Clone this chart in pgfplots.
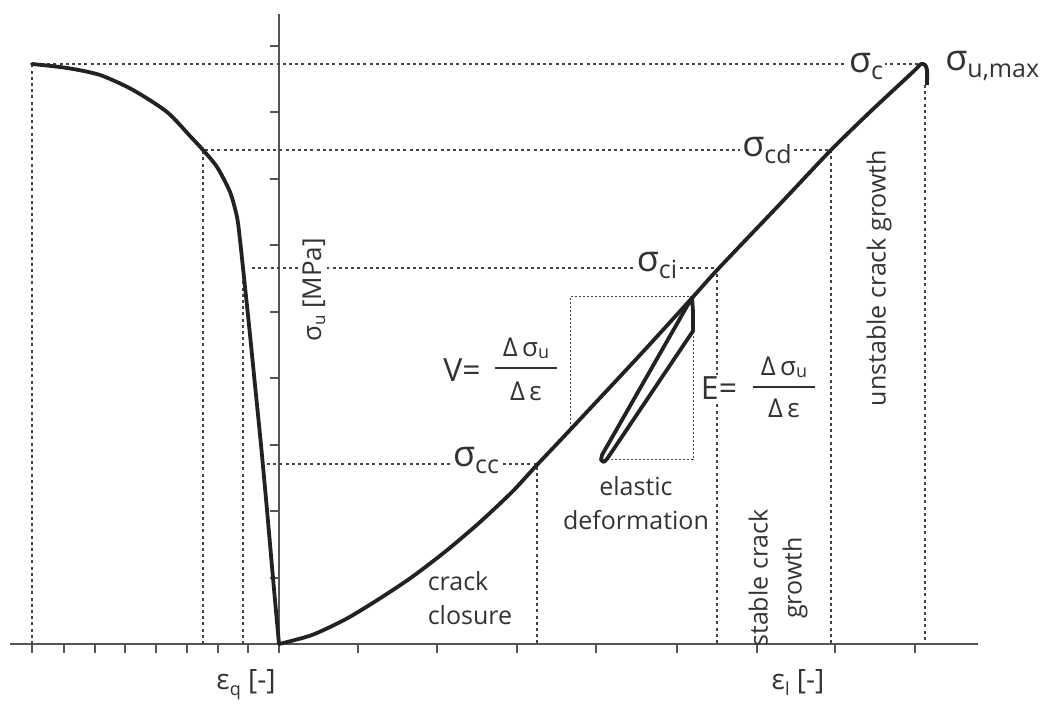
\documentclass[border=0pt]{standalone}
\usepackage{fontspec}
\setmainfont{Open Sans}
\usepackage{pgfplots}
\pgfplotsset{compat=1.18}
\definecolor{crv}{HTML}{222222}
\definecolor{axc}{HTML}{555555}
\definecolor{dotc}{HTML}{444444}
\definecolor{txt}{HTML}{333333}
\newcommand{\lab}{\fontsize{12.5}{17}\selectfont}
\newcommand{\sig}[1]{{\fontsize{18}{20}\selectfont σ}\raisebox{-3.5pt}{\fontsize{12.5}{14}\selectfont #1}}
\newcommand{\frc}{{\fontsize{13}{15}\selectfont Δ\,σ\raisebox{-1pt}{\fontsize{9}{10}\selectfont u}}}
\newcommand{\frd}{{\fontsize{13}{15}\selectfont Δ\,ε}}
\begin{document}
\begin{tikzpicture}
\begin{axis}[
  x=0.5pt, y=0.5pt,
  axis lines=middle,
  axis line style={-, axc, line width=0.8pt},
  xmin=-269, xmax=699, ymin=0, ymax=630,
  xtick={-247,-215,-184,-154,-123,-92,-61,-31,0,79,158,238,317,398,478,556,636},
  ytick={66,133,199,266,332,399,465,532,598},
  xticklabels={}, yticklabels={},
  tick align=outside,
  major tick length=4.5pt,
  tick style={axc, line width=0.8pt},
  hide obscured x ticks=false,
  hide obscured y ticks=false,
  clip=false,
  dots/.style={dotc, line width=0.8pt, dash pattern=on 1.5pt off 1.6pt},
  fine/.style={dotc, line width=0.5pt, dash pattern=on 1pt off 1pt},
]
% invisible frame of the picture
\path (axis cs:-279,-54) rectangle (axis cs:764,644);

% reference dotted lines
\addplot[dots] coordinates {(-247,0) (-247,580) (640,580)};
\addplot[dots] coordinates {(-76,0) (-76,494) (552,494) (552,0)};
\addplot[dots] coordinates {(-36,0) (-36,365)};
\addplot[dots] coordinates {(-27,376) (438,376) (438,0)};
\addplot[dots] coordinates {(-12,180) (258,180) (258,0)};
\addplot[dots] coordinates {(646,559) (646,0)};
% box round the elastic loop
\addplot[fine] coordinates {(291,216) (291,347) (413,347)};
\addplot[fine] coordinates {(328,184) (414,184) (414,313)};

% lateral strain curve
\addplot[crv, line width=1.9pt, smooth, tension=0.45, line cap=round] coordinates {
(-247,580) (-212,576) (-179,569) (-146,554) (-112,532) (-89,508) (-76,494)
(-62,477) (-49,452) (-42,427) (-39,404) (-36,376) (-30,319) (-24,259)
(-18,199) (-12,134) (-6,66) (0,0)};

% axial strain curve
\addplot[crv, line width=1.9pt, smooth, tension=0.45, line join=round] coordinates {
(0,0) (33,9) (67,25) (100,45) (133,67) (167,93) (200,121) (233,152) (257,178)
(291,214) (361,289) (413,346) (440,376) (501,440) (552,494) (591,532)
(621,560) (636,574) (642,580) (646,579) (648,574) (648,559)};

% unloading / reloading loop
\addplot[crv, line width=1.9pt, line join=round] coordinates {
(413,347) (414,332) (414,313) (328,185) (325,182) (322,184) (323,189) (411,343) (413,347)};

% labels
\node[txt] at (axis cs:-33,-41) {\fontsize{14}{16}\selectfont ε\raisebox{-3pt}{\fontsize{9}{10}\selectfont q} [-]};
\node[txt] at (axis cs:519,-39) {\fontsize{14}{16}\selectfont ε\raisebox{-3pt}{\fontsize{9}{10}\selectfont l} [-]};
\node[txt, fill=white, inner sep=1pt, rotate=90] at (axis cs:35,354) {\fontsize{13}{15}\selectfont σ\raisebox{-2pt}{\fontsize{8.5}{9}\selectfont u} [MPa]};
\node[txt, fill=white, inner sep=1pt] at (axis cs:587,578) {\sig{c}};
\node[txt, anchor=west, inner sep=1pt] at (axis cs:664,578) {\sig{u,max}};
\node[txt, fill=white, inner sep=1pt] at (axis cs:488,494) {\sig{cd}};
\node[txt, fill=white, inner sep=1pt] at (axis cs:378,379) {\sig{ci}};
\node[txt, fill=white, inner sep=1pt] at (axis cs:197,184) {\sig{cc}};

\node[txt] at (axis cs:183,274) {\fontsize{16}{18}\selectfont V=};
\node[txt] at (axis cs:247,296) {\frc};
\node[txt, inner sep=0pt] at (axis cs:247,276) {\rule{31pt}{0.6pt}};
\node[txt] at (axis cs:247,253) {\frd};

\node[txt, fill=white, inner sep=1pt] at (axis cs:440,256) {\fontsize{16}{18}\selectfont E=};
\node[txt] at (axis cs:505,277) {\frc};
\node[txt, inner sep=0pt] at (axis cs:505,257) {\rule{31pt}{0.6pt}};
\node[txt] at (axis cs:505,236) {\frd};

\node[txt, align=left, font=\lab] at (axis cs:191,46) {crack\\closure};
\node[txt, align=center, font=\lab] at (axis cs:357,141) {elastic\\deformation};
\node[txt, align=center, rotate=90, font=\lab] at (axis cs:499,66) {stable crack\\growth};
\node[txt, rotate=90, font=\lab] at (axis cs:600,366) {unstable crack growth};
\end{axis}
\end{tikzpicture}
\end{document}
